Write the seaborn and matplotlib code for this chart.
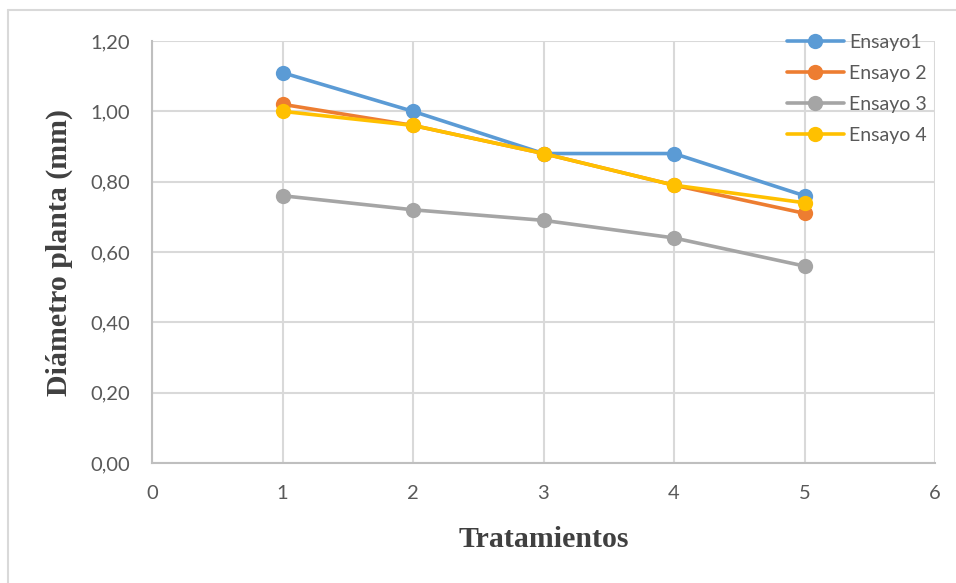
import matplotlib
matplotlib.use("Agg")
import matplotlib.pyplot as plt
import seaborn as sns
import pandas as pd
from matplotlib.ticker import FuncFormatter, MultipleLocator
from matplotlib.lines import Line2D

tratamientos = [1, 2, 3, 4, 5]
ensayo1 = [1.11, 1.00, 0.88, 0.88, 0.76]
ensayo2 = [1.02, 0.96, 0.88, 0.79, 0.71]
ensayo3 = [0.76, 0.72, 0.69, 0.64, 0.56]
ensayo4 = [1.00, 0.96, 0.88, 0.79, 0.74]
series_names = ["Ensayo1", "Ensayo 2", "Ensayo 3", "Ensayo 4"]
colors = ["#5B9BD5", "#ED7D31", "#A5A5A5", "#FFC000"]

rows = []
for name, vals in zip(series_names, [ensayo1, ensayo2, ensayo3, ensayo4]):
    for t, v in zip(tratamientos, vals):
        rows.append({"Tratamiento": t, "Diametro": v, "Ensayo": name})
df = pd.DataFrame(rows)

sns.set_theme(style="white")
plt.rcParams["font.family"] = ["Lato", "DejaVu Sans"]

fig = plt.figure(figsize=(9.56, 5.83), dpi=100)
ax = fig.add_axes([152/956, 1-463/583, (935-152)/956, (463-41)/583])

sns.lineplot(data=df, x="Tratamiento", y="Diametro", hue="Ensayo",
             hue_order=series_names, palette=colors, marker="o",
             markersize=11, linewidth=2.6, markeredgewidth=0, ax=ax)

ax.set_xlim(0, 6)
ax.set_ylim(0, 1.2)
ax.xaxis.set_major_locator(MultipleLocator(1))
ax.yaxis.set_major_locator(MultipleLocator(0.2))
ax.yaxis.set_major_formatter(FuncFormatter(lambda v, p: f"{v:.2f}".replace(".", ",")))
ax.xaxis.set_major_formatter(FuncFormatter(lambda v, p: f"{int(round(v))}"))
ax.grid(True, color="#D9D9D9", linewidth=1.5)
ax.set_axisbelow(True)
for s in ["top", "right"]:
    ax.spines[s].set_visible(False)
for s in ["left", "bottom"]:
    ax.spines[s].set_color("#BFBFBF")
    ax.spines[s].set_linewidth(1.5)
ax.tick_params(length=0, labelsize=14.5, colors="#595959", pad=16)

ax.set_xlabel("Tratamientos", fontsize=21.5, fontweight="bold",
              family="Liberation Serif", color="#404040", labelpad=17)
ax.set_ylabel("Diámetro planta (mm)", fontsize=21.5, fontweight="bold",
              family="Liberation Serif", color="#404040", labelpad=12)

handles, labels = ax.get_legend_handles_labels()
leg = ax.legend(handles, labels, loc="upper right", bbox_to_anchor=(1.0, 1.035),
                frameon=False, fontsize=14, handlelength=2.9, handletextpad=0.3,
                labelspacing=0.72, borderaxespad=0)
for t in leg.get_texts():
    t.set_color("#595959")

# outer chart frame (left and top edges visible)
fig.add_artist(Line2D([8/956, 8/956], [0, 1-10/583], transform=fig.transFigure,
                      color="#D9D9D9", linewidth=1.5))
fig.add_artist(Line2D([8/956, 1], [1-10/583, 1-10/583], transform=fig.transFigure,
                      color="#D9D9D9", linewidth=1.5))

fig.savefig("out.png", dpi=100)
